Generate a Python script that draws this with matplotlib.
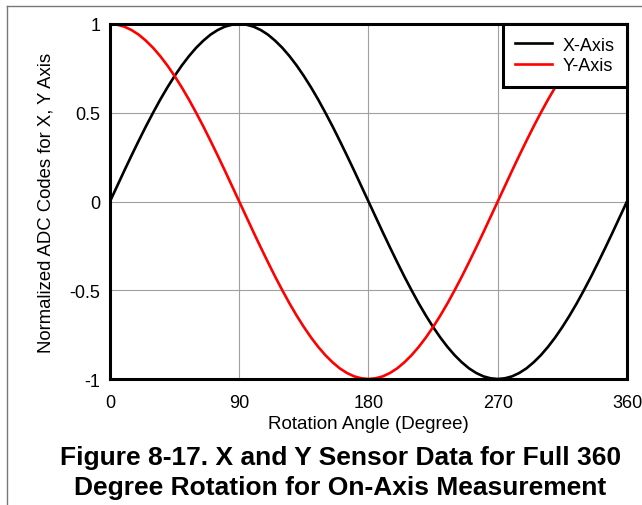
import matplotlib.pyplot as plt
from matplotlib.lines import Line2D

plt.rcParams["font.family"] = ["Liberation Sans", "DejaVu Sans"]

# rotation angle, degrees (read every 5 degrees)
angle = list(range(0, 365, 5))

# normalized ADC codes
x_axis = [0.000, 0.087, 0.174, 0.259, 0.342, 0.423, 0.500, 0.574, 0.643, 0.707, 0.766, 0.819, 0.866, 0.906, 0.940, 0.966, 0.985, 0.996, 1.000,
          0.996, 0.985, 0.966, 0.940, 0.906, 0.866, 0.819, 0.766, 0.707, 0.643, 0.574, 0.500, 0.423, 0.342, 0.259, 0.174, 0.087, 0.000,
          -0.087, -0.174, -0.259, -0.342, -0.423, -0.500, -0.574, -0.643, -0.707, -0.766, -0.819, -0.866, -0.906, -0.940, -0.966, -0.985, -0.996, -1.000,
          -0.996, -0.985, -0.966, -0.940, -0.906, -0.866, -0.819, -0.766, -0.707, -0.643, -0.574, -0.500, -0.423, -0.342, -0.259, -0.174, -0.087, 0.000]
y_axis = [1.000, 0.996, 0.985, 0.966, 0.940, 0.906, 0.866, 0.819, 0.766, 0.707, 0.643, 0.574, 0.500, 0.423, 0.342, 0.259, 0.174, 0.087, 0.000,
          -0.087, -0.174, -0.259, -0.342, -0.423, -0.500, -0.574, -0.643, -0.707, -0.766, -0.819, -0.866, -0.906, -0.940, -0.966, -0.985, -0.996, -1.000,
          -0.996, -0.985, -0.966, -0.940, -0.906, -0.866, -0.819, -0.766, -0.707, -0.643, -0.574, -0.500, -0.423, -0.342, -0.259, -0.174, -0.087, 0.000,
          0.087, 0.174, 0.259, 0.342, 0.423, 0.500, 0.574, 0.643, 0.707, 0.766, 0.819, 0.866, 0.906, 0.940, 0.966, 0.985, 0.996, 1.000]

x_ticks = [0, 90, 180, 270, 360]
y_ticks = [-1, -0.5, 0, 0.5, 1]
y_tick_labels = ["-1", "-0.5", "0", "0.5", "1"]

fig = plt.figure(figsize=(6.42, 5.06), dpi=100)
ax = fig.add_axes([0.1713, 0.249, 0.8053, 0.7016])

ax.plot(angle, x_axis, color="black", lw=1.9, label="X-Axis")
ax.plot(angle, y_axis, color="#ff0000", lw=1.9, label="Y-Axis")

ax.set_xlim(0, 360)
ax.set_ylim(-1, 1)
ax.set_xticks(x_ticks)
ax.set_xticklabels([str(t) for t in x_ticks])
ax.set_yticks(y_ticks)
ax.set_yticklabels(y_tick_labels)
ax.tick_params(length=0, labelsize=13)
ax.tick_params(axis="x", pad=11)
ax.tick_params(axis="y", pad=7)
ax.grid(True, color="#a0a0a0", lw=0.8)
ax.set_axisbelow(True)
for s in ax.spines.values():
    s.set_linewidth(2.2)
    s.set_zorder(5)

ax.set_xlabel("Rotation Angle (Degree)", fontsize=13.5, labelpad=3)
ax.set_ylabel("Normalized ADC Codes for X, Y Axis", fontsize=13.3, labelpad=11)

leg = ax.legend(loc="upper right", borderaxespad=0, fontsize=13, fancybox=False,
                framealpha=1, edgecolor="black", handlelength=2.0, handletextpad=0.6,
                labelspacing=0.2, borderpad=0.7)
leg.get_frame().set_linewidth(2.2)
leg.set_zorder(6)

fig.text(0.53, 1 - 458 / 506, "Figure 8-17. X and Y Sensor Data for Full 360",
         ha="center", va="center", fontsize=19, fontweight="bold")
fig.text(0.53, 1 - 488 / 506, "Degree Rotation for On-Axis Measurement",
         ha="center", va="center", fontsize=19, fontweight="bold")

# page frame lines
fig.add_artist(Line2D([7 / 642, 1], [1 - 7 / 506, 1 - 7 / 506], color="#777777", lw=1))
fig.add_artist(Line2D([7 / 642, 7 / 642], [0, 1 - 7 / 506], color="#777777", lw=1))

fig.savefig("out.png", dpi=100)
